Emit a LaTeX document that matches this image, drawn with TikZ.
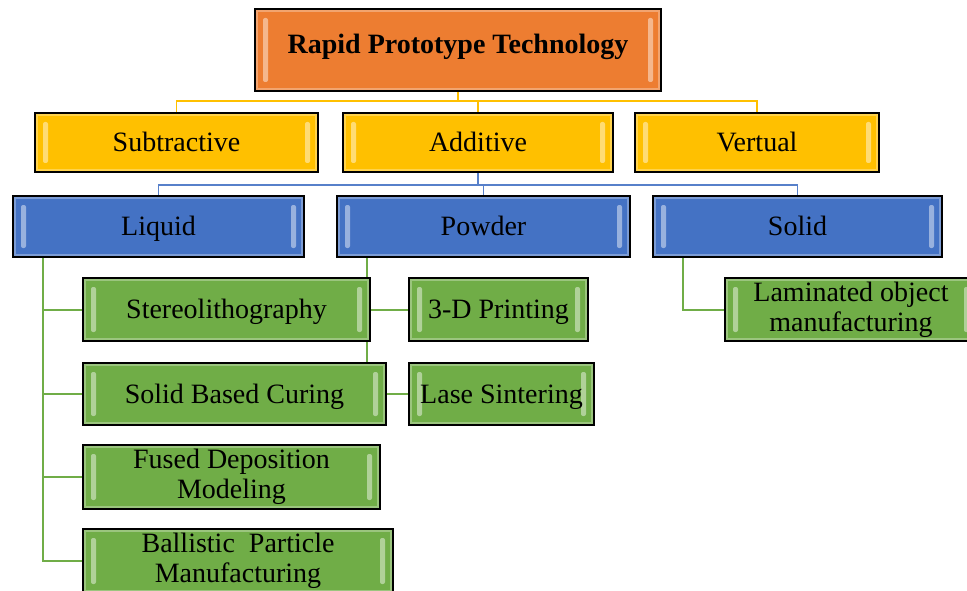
\documentclass[tikz,border=0pt]{standalone}
\usepackage{fontspec}
\setmainfont{Liberation Serif}
\usetikzlibrary{backgrounds}

\definecolor{rorange}{HTML}{ED7D31}
\definecolor{ryellow}{HTML}{FFC000}
\definecolor{rblue}{HTML}{4472C4}
\definecolor{rgreen}{HTML}{70AD47}

\tikzstyle{gbox}=[rectangle, draw=black, line width=1.6pt, align=center, inner sep=0pt,
  text height=20pt, text depth=2pt, font=\fontsize{28}{30}\selectfont,
  path picture={
    \draw[white, opacity=.3, line width=1.5pt]
      ([shift={(2pt,-2pt)}]path picture bounding box.north west) rectangle
      ([shift={(-2pt,2pt)}]path picture bounding box.south east);
    \fill[white, opacity=.45, rounded corners=2pt]
      ([shift={(8pt,-9pt)}]path picture bounding box.north west) rectangle
      ([shift={(13pt,9pt)}]path picture bounding box.south west);
    \fill[white, opacity=.45, rounded corners=2pt]
      ([shift={(-13pt,-9pt)}]path picture bounding box.north east) rectangle
      ([shift={(-8pt,9pt)}]path picture bounding box.south east);
  }]
\tikzstyle{borange}=[gbox, fill=rorange, minimum height=82pt]
\tikzstyle{byellow}=[gbox, fill=ryellow, minimum height=59pt]
\tikzstyle{bblue}=[gbox, fill=rblue, minimum height=61pt]
\tikzstyle{bgreen}=[gbox, fill=rgreen, minimum height=63pt]
\tikzstyle{twoline}=[text height={}, text depth={}]
\tikzstyle{lyellow}=[ryellow, line width=1.5pt]
\tikzstyle{lblue}=[rblue!90!white, line width=1.5pt]
\tikzstyle{lgreen}=[rgreen, line width=2pt]

\begin{document}
\begin{tikzpicture}[x=1pt, y=-1pt]

\useasboundingbox (0,0) rectangle (967,591);
\clip (0,0) rectangle (967,591);

% top level
\node[borange, minimum width=406pt, text depth=12pt, font=\bfseries\fontsize{28}{30}\selectfont] (root) at (458,50) {Rapid Prototype Technology};

\node[byellow, minimum width=283pt] (sub) at (176.5,142.5) {Subtractive};
\node[byellow, minimum width=270pt] (add) at (478,142.5) {Additive};
\node[byellow, minimum width=244pt] (vert) at (757,142.5) {Vertual};

\node[bblue, minimum width=291pt] (liquid) at (158.5,226.5) {Liquid};
\node[bblue, minimum width=293pt] (powder) at (483.5,226.5) {Powder};
\node[bblue, minimum width=289pt] (solid) at (797.5,226.5) {Solid};

% processes
\node[bgreen, minimum width=287pt] (stereo) at (226.5,309.5) {Stereolithography};
\node[bgreen, minimum width=303pt, minimum height=62pt] (curing) at (234.5,394) {Solid Based Curing};
\node[bgreen, twoline, minimum width=297pt, minimum height=64pt] (fdm) at (231.5,477) {Fused Deposition\\Modeling};
\node[bgreen, twoline, minimum width=310pt, minimum height=64pt] (bpm) at (238,561) {Ballistic\ \ Particle\\Manufacturing};
\node[bgreen, minimum width=179pt] (print) at (498.5,309.5) {3-D Printing};
\node[bgreen, minimum width=185pt, minimum height=62pt] (laser) at (501.5,394) {Lase Sintering};
\node[bgreen, twoline, minimum width=252pt] (lom) at (851,309.5) {Laminated object\\manufacturing};

\coordinate (ybus) at (458,101);
\coordinate (bbus) at (478,185);
\coordinate (lqd) at (43,257);
\coordinate (pwd) at (367,257);
\coordinate (sld) at (683,257);

\begin{scope}[on background layer]
\draw[lyellow] (root) -- (ybus) -| (sub);
\draw[lyellow] (ybus) -| (add);
\draw[lyellow] (ybus) -| (vert);

\draw[lblue] (add) -- (bbus) -| (liquid);
\draw[lblue] (bbus) -| (powder);
\draw[lblue] (bbus) -| (solid);

\draw[lgreen] (lqd) |- (stereo);
\draw[lgreen] (lqd) |- (curing);
\draw[lgreen] (lqd) |- (fdm);
\draw[lgreen] (lqd) |- (bpm);
\draw[lgreen] (pwd) |- (print);
\draw[lgreen] (pwd) |- (laser);
\draw[lgreen] (sld) |- (lom);
\end{scope}

\end{tikzpicture}
\end{document}
